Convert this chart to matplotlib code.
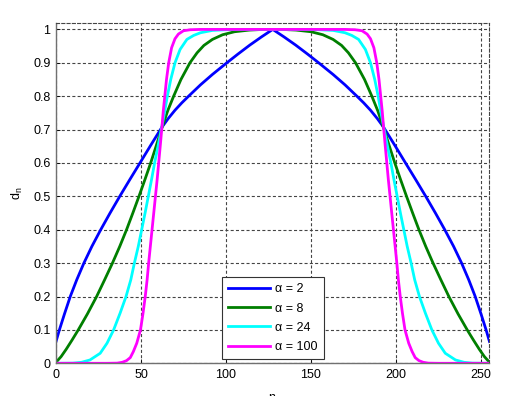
import matplotlib
matplotlib.use("Agg")
import matplotlib.pyplot as plt

plt.rcParams['font.family'] = ['Liberation Sans', 'DejaVu Sans']
plt.rcParams['mathtext.default'] = 'regular'
plt.rcParams['lines.scale_dashes'] = False

# ---- data ----
labels = ['α = 2', 'α = 8', 'α = 24', 'α = 100']
colors = ['#0000ff', '#007f00', '#00ffff', '#ff00ff']

n_a2 = [0, 2, 5, 8.4, 12.2, 16.4, 21.1, 26.3, 31.8, 37.5, 43.4, 49.4, 55.6, 62.3, 66, 70, 74, 78, 85, 92, 100, 107, 114, 121, 127.5,
        134, 141, 148, 155, 163, 170, 177, 181, 185, 189, 192.7, 199.4, 205.6, 211.6, 217.5, 223.2, 228.7, 233.9, 238.6, 242.8, 246.6, 250, 253, 255]
d_a2 = [0.065, 0.10, 0.148, 0.20, 0.25, 0.30, 0.35, 0.40, 0.45, 0.50, 0.55, 0.60, 0.652, 0.707, 0.733, 0.758, 0.78, 0.80, 0.834, 0.865, 0.898, 0.926, 0.953, 0.978, 1.0,
        0.978, 0.953, 0.926, 0.898, 0.865, 0.834, 0.80, 0.78, 0.758, 0.733, 0.707, 0.652, 0.60, 0.55, 0.50, 0.45, 0.40, 0.35, 0.30, 0.25, 0.20, 0.148, 0.10, 0.065]

n_a8 = [0, 3, 6, 9.5, 13.1, 18.5, 23.9, 28.6, 33.2, 37.5, 41.5, 45.2, 48.8, 52.3, 55.7, 59, 62.3, 65.7, 69.2, 73.5, 78.8, 83, 87, 92, 98, 105, 113.8, 120, 127.5,
        135, 141.2, 150, 157, 163, 168, 172, 176.2, 181.5, 185.8, 189.3, 192.7, 196, 199.3, 202.7, 206.2, 209.8, 213.5, 217.5, 221.8, 226.4, 231.1, 236.5, 241.9, 245.5, 249, 252, 255]
d_a8 = [0.003, 0.02, 0.042, 0.07, 0.10, 0.148, 0.20, 0.25, 0.30, 0.35, 0.40, 0.45, 0.50, 0.55, 0.60, 0.652, 0.705, 0.756, 0.80, 0.85, 0.90, 0.93, 0.952, 0.97, 0.984, 0.993, 0.998, 0.9995, 1.0,
        0.9995, 0.998, 0.993, 0.984, 0.97, 0.952, 0.93, 0.90, 0.85, 0.80, 0.756, 0.705, 0.652, 0.60, 0.55, 0.50, 0.45, 0.40, 0.35, 0.30, 0.25, 0.20, 0.148, 0.10, 0.07, 0.042, 0.02, 0.003]

n_a24 = [0, 10, 15, 20, 23, 26, 30, 33.9, 37.7, 41.2, 44, 46.1, 48.4, 50.4, 52.4, 54.3, 56.2, 58, 60, 62.2, 63.8, 65.5, 67.5, 70, 73, 77, 81, 85, 92, 100, 110, 127.5,
         145, 155, 163, 170, 174, 178, 182, 185, 187.5, 189.5, 191.2, 192.8, 195, 197, 198.8, 200.7, 202.6, 204.6, 206.6, 208.9, 211, 213.8, 217.3, 221.1, 225, 229, 232, 235, 240, 245, 255]
d_a24 = [0, 0.0005, 0.003, 0.01, 0.02, 0.03, 0.06, 0.10, 0.15, 0.20, 0.25, 0.30, 0.35, 0.40, 0.45, 0.50, 0.55, 0.60, 0.65, 0.707, 0.75, 0.80, 0.85, 0.90, 0.94, 0.97, 0.982, 0.99, 0.997, 0.999, 1.0, 1.0,
         1.0, 0.999, 0.997, 0.99, 0.982, 0.97, 0.94, 0.90, 0.85, 0.80, 0.75, 0.707, 0.65, 0.60, 0.55, 0.50, 0.45, 0.40, 0.35, 0.30, 0.25, 0.20, 0.15, 0.10, 0.06, 0.03, 0.02, 0.01, 0.003, 0.0005, 0]

n_a100 = [0, 30, 36, 39, 41.5, 43.7, 45.5, 47.5, 49.7, 51.2, 52.5, 53.6, 54.5, 55.5, 56.5, 57.5, 58.5, 59.5, 60.4, 61.4, 62.3, 63.1, 64, 65, 66.3, 68, 70, 72, 75, 79, 85, 127.5,
          170, 176, 180, 183, 185, 187, 188.7, 190, 191, 191.9, 192.7, 193.6, 194.6, 195.5, 196.5, 197.5, 198.5, 199.5, 200.5, 201.4, 202.5, 203.8, 205.3, 207.5, 209.5, 211.3, 213.5, 216, 219, 225, 255]
d_a100 = [0, 0, 0.0005, 0.003, 0.008, 0.017, 0.035, 0.06, 0.10, 0.15, 0.20, 0.25, 0.30, 0.35, 0.40, 0.45, 0.50, 0.55, 0.60, 0.655, 0.707, 0.755, 0.80, 0.85, 0.90, 0.945, 0.972, 0.986, 0.996, 0.999, 1.0, 1.0,
          1.0, 0.999, 0.996, 0.986, 0.972, 0.945, 0.90, 0.85, 0.80, 0.755, 0.707, 0.655, 0.60, 0.55, 0.50, 0.45, 0.40, 0.35, 0.30, 0.25, 0.20, 0.15, 0.10, 0.06, 0.035, 0.017, 0.008, 0.003, 0.0005, 0, 0]

x_ticks = [0, 50, 100, 150, 200, 250]
y_ticks = [0, 0.1, 0.2, 0.3, 0.4, 0.5, 0.6, 0.7, 0.8, 0.9, 1]
y_ticklabels = ['0', '0.1', '0.2', '0.3', '0.4', '0.5', '0.6', '0.7', '0.8', '0.9', '1']

series = [(n_a2, d_a2), (n_a8, d_a8), (n_a24, d_a24), (n_a100, d_a100)]

fig = plt.figure(figsize=(5.17, 3.96), dpi=100)
ax = fig.add_axes([0.1083, 0.0826, 0.8385, 0.860])

for (nn, dd), c, lab in zip(series, colors, labels):
    ax.plot(nn, dd, color=c, lw=2.0, label=lab, solid_joinstyle='round')

ax.set_xlim(0, 255)
ax.set_ylim(0, 1.02)
ax.set_xticks(x_ticks)
ax.set_yticks(y_ticks)
ax.set_yticklabels(y_ticklabels)
ax.tick_params(direction='in', length=3, labelsize=9, colors='#000000', width=0.6, pad=4)
ax.grid(True, color='#444444', lw=0.8, linestyle=(0, (2.2, 1.6)))
ax.set_axisbelow(True)

for s in ['left', 'bottom']:
    ax.spines[s].set_color('#707070')
    ax.spines[s].set_linewidth(1.0)
for s in ['top', 'right']:
    ax.spines[s].set_color('#444444')
    ax.spines[s].set_linewidth(0.8)
    ax.spines[s].set_linestyle((0, (2.2, 1.6)))

ax.set_ylabel('d$_n$', fontsize=9, labelpad=6)
# x-axis label "n" sits mostly below the lower edge of the image, as in the reference
fig.text(0.526, -0.012, 'n', ha='center', va='baseline', fontsize=9)

leg = ax.legend(loc='lower left', bbox_to_anchor=(0.382, 0.0117), fontsize=9,
                frameon=True, fancybox=False, shadow=False, framealpha=1,
                edgecolor='#333333', handlelength=3.4, handletextpad=0.4,
                labelspacing=0.58, borderpad=0.5, borderaxespad=0)
leg.get_frame().set_linewidth(0.8)

fig.savefig('out.png', dpi=100)
